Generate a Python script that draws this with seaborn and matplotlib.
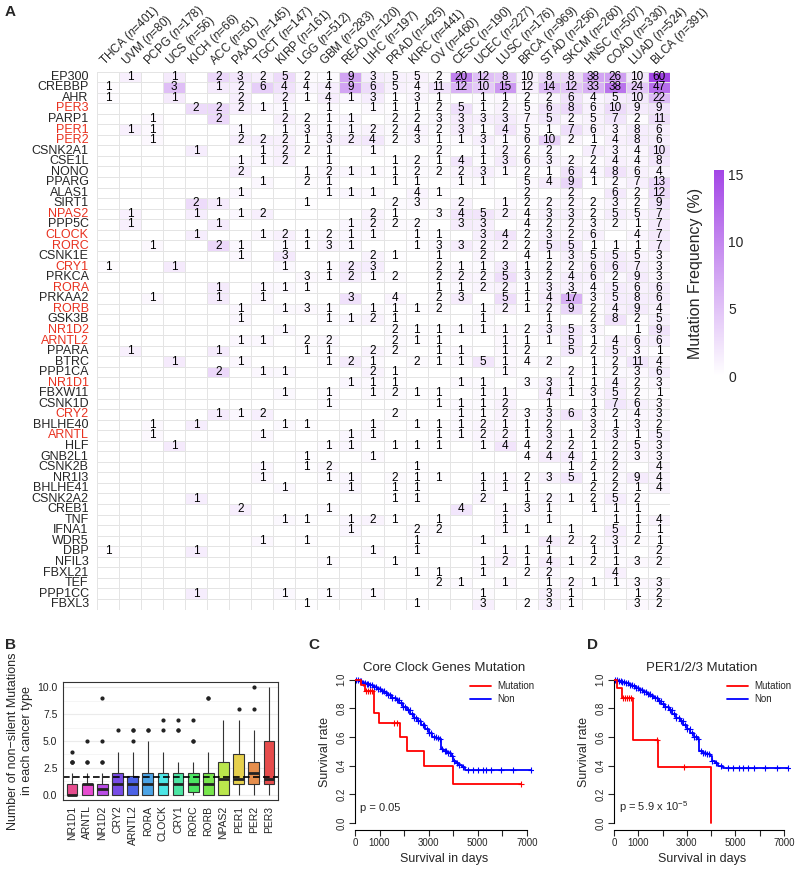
import numpy as np
import pandas as pd
import matplotlib
matplotlib.use("Agg")
import matplotlib.pyplot as plt
import seaborn as sns
from matplotlib.colors import LinearSegmentedColormap, hsv_to_rgb

# ---- panel A: mutation counts per gene and cancer type ----
cancers = ['THCA', 'UVM', 'PCPG', 'UCS', 'KICH', 'ACC', 'PAAD', 'TGCT', 'KIRP', 'LGG', 'GBM', 'READ', 'LIHC',
           'PRAD', 'KIRC', 'OV', 'CESC', 'UCEC', 'LUSC', 'BRCA', 'STAD', 'SKCM', 'HNSC', 'COAD', 'LUAD', 'BLCA']
n_samples = [401, 80, 178, 56, 66, 61, 145, 147, 161, 512, 283, 120, 197,
             425, 441, 460, 190, 227, 176, 969, 256, 260, 507, 330, 524, 391]

EP300   = [0,1,0,1,0,2,3,2,5,2,1,9,3,5,5,2,20,12,8,10,8,8,38,26,10,60]
CREBBP  = [1,0,0,3,0,1,2,6,4,4,4,9,6,5,4,11,12,10,15,12,14,12,33,38,24,47]
AHR     = [1,0,0,1,0,0,2,0,2,1,4,1,3,1,3,1,0,1,1,2,2,6,4,5,10,22]
PER3    = [0,0,0,0,2,2,2,1,1,0,1,0,1,1,1,2,5,1,2,5,6,8,6,10,9,9]
PARP1   = [0,0,1,0,0,2,0,0,2,2,1,1,0,2,2,3,3,3,3,7,5,2,5,7,2,11]
PER1    = [0,1,1,0,0,0,1,0,1,3,1,1,2,2,4,2,3,1,4,5,1,7,6,3,8,6]
PER2    = [0,0,1,0,0,0,2,2,2,1,3,2,4,2,3,1,1,3,1,6,10,2,1,4,8,6]
CSNK2A1 = [0,0,0,0,1,0,0,1,2,2,1,0,1,0,0,2,0,1,2,2,2,0,7,3,4,10]
CSE1L   = [0,0,0,0,0,0,1,1,2,0,1,0,0,1,2,1,4,1,3,6,3,2,2,4,4,8]
NONO    = [0,0,0,0,0,0,2,0,0,1,2,1,1,1,2,2,2,3,1,2,1,6,4,8,6,4]
PPARG   = [0,0,0,0,0,0,0,1,0,2,1,0,0,1,1,0,1,1,0,5,4,9,1,2,7,13]
ALAS1   = [0,0,0,0,0,0,1,0,0,0,1,1,1,0,4,1,0,0,0,2,0,2,0,6,2,12]
SIRT1   = [0,0,0,0,2,1,0,0,0,1,0,0,0,2,3,0,2,0,1,2,2,2,2,3,2,9]
NPAS2   = [0,1,0,0,1,0,1,2,0,0,0,0,2,1,0,3,4,5,2,4,3,3,2,5,5,7]
PPP5C   = [0,1,0,0,0,1,0,0,0,0,0,1,2,2,2,0,3,3,0,4,2,2,3,2,1,7]
CLOCK   = [0,0,0,0,1,0,0,1,2,1,2,1,1,0,1,1,0,3,4,2,3,2,6,0,4,7]
RORC    = [0,0,1,0,0,2,1,0,1,1,3,1,0,0,1,3,3,2,2,2,5,5,1,1,1,7]
CSNK1E  = [0,0,0,0,0,0,1,0,3,0,0,0,2,1,0,1,0,2,0,4,1,3,5,5,5,3]
CRY1    = [1,0,0,1,0,0,0,0,1,0,1,2,3,0,0,2,1,1,3,1,2,2,6,6,7,3]
PRKCA   = [0,0,0,0,0,0,0,0,0,3,1,2,1,2,0,2,2,2,5,3,2,4,6,2,9,3]
RORA    = [0,0,0,0,0,1,0,1,1,1,0,0,0,0,0,1,1,2,2,1,3,3,4,5,6,6]
PRKAA2  = [0,0,1,0,0,1,0,1,0,0,0,3,0,4,0,2,3,0,5,1,4,17,3,5,8,6]
RORB    = [0,0,0,0,0,0,1,0,1,3,1,0,1,1,1,2,0,1,2,1,2,9,2,4,9,4]
GSK3B   = [0,0,0,0,0,0,1,0,0,0,1,1,2,1,0,0,0,1,0,0,1,0,2,8,2,5]
NR1D2   = [0,0,0,0,0,0,0,0,1,0,0,0,0,2,1,1,1,1,1,2,3,5,3,0,1,9]
ARNTL2  = [0,0,0,0,0,0,1,1,0,2,2,0,0,2,1,1,0,0,1,1,1,5,1,4,6,6]
PPARA   = [0,1,0,0,0,1,0,0,0,1,1,0,2,2,0,1,1,0,1,2,0,5,2,5,3,1]
BTRC    = [0,0,0,1,0,0,1,0,0,0,1,2,1,0,2,1,1,5,1,4,2,0,1,2,11,4]
PPP1CA  = [0,0,0,0,0,2,0,1,1,0,0,0,2,1,0,0,0,0,1,0,0,2,1,2,3,6]
NR1D1   = [0,0,0,0,0,0,0,0,0,0,0,1,1,1,0,0,1,1,0,3,3,1,1,4,2,3]
FBXW11  = [0,0,0,0,0,0,0,0,1,0,1,0,1,2,1,1,0,1,1,0,4,1,3,5,2,1]
CSNK1D  = [0,0,0,0,0,0,0,0,0,0,1,0,0,0,0,1,1,1,2,0,1,0,1,7,6,3]
CRY2    = [0,0,0,0,0,1,1,2,0,0,0,0,0,2,0,0,1,1,2,3,3,6,3,2,4,3]
BHLHE40 = [0,0,1,0,1,0,0,0,1,1,0,0,1,0,1,1,1,2,1,1,2,0,3,1,3,2]
ARNTL   = [0,0,1,0,0,0,0,1,0,0,0,1,1,0,0,1,1,2,2,1,3,1,2,3,1,5]
HLF     = [0,0,0,1,0,0,0,0,0,0,1,1,0,1,1,1,0,1,4,4,2,2,1,2,5,3]
GNB2L1  = [0,0,0,0,0,0,0,0,0,1,0,0,1,0,0,0,0,0,0,4,4,4,1,2,3,3]
CSNK2B  = [0,0,0,0,0,0,0,1,0,1,2,0,0,0,1,0,0,0,0,0,0,1,2,2,0,4]
NR1I3   = [0,0,0,0,0,0,0,1,0,0,1,1,0,2,1,1,0,1,1,2,3,5,1,2,9,4]
BHLHE41 = [0,0,0,0,0,0,0,0,1,0,0,1,0,1,1,0,0,1,1,1,0,0,2,2,1,4]
CSNK2A2 = [0,0,0,0,1,0,0,0,0,0,0,0,0,1,1,0,0,2,0,1,2,1,2,5,2,0]
CREB1   = [0,0,0,0,0,0,2,0,0,0,1,0,0,0,0,0,4,0,1,3,1,0,1,1,1,0]
TNF     = [0,0,0,0,0,0,0,0,1,1,0,1,2,1,0,1,0,0,1,0,1,0,0,1,1,4]
IFNA1   = [0,0,0,0,0,0,0,0,0,0,0,1,0,0,2,2,0,0,1,1,0,1,0,5,1,1]
WDR5    = [0,0,0,0,0,0,0,1,0,1,0,0,0,0,1,0,0,1,0,0,4,2,2,3,2,1]
DBP     = [1,0,0,0,1,0,0,0,0,0,0,0,1,0,1,0,0,0,1,1,1,0,1,1,0,2]
NFIL3   = [0,0,0,0,0,0,0,0,0,0,1,0,0,1,0,0,0,1,2,1,4,1,2,1,3,2]
FBXL21  = [0,0,0,0,0,0,0,0,0,0,0,0,0,0,1,1,0,1,0,2,2,0,0,4,0,0]
TEF     = [0,0,0,0,0,0,0,0,0,0,0,0,0,0,0,2,1,0,1,0,1,2,1,1,3,3]
PPP1CC  = [0,0,0,0,1,0,0,0,1,0,1,0,1,0,0,0,0,1,0,0,3,1,0,0,1,2]
FBXL3   = [0,0,0,0,0,0,0,0,0,1,0,0,0,0,1,0,0,3,0,2,3,1,0,0,3,2]

genes = ['EP300', 'CREBBP', 'AHR', 'PER3', 'PARP1', 'PER1', 'PER2', 'CSNK2A1', 'CSE1L', 'NONO', 'PPARG',
         'ALAS1', 'SIRT1', 'NPAS2', 'PPP5C', 'CLOCK', 'RORC', 'CSNK1E', 'CRY1', 'PRKCA', 'RORA', 'PRKAA2',
         'RORB', 'GSK3B', 'NR1D2', 'ARNTL2', 'PPARA', 'BTRC', 'PPP1CA', 'NR1D1', 'FBXW11', 'CSNK1D', 'CRY2',
         'BHLHE40', 'ARNTL', 'HLF', 'GNB2L1', 'CSNK2B', 'NR1I3', 'BHLHE41', 'CSNK2A2', 'CREB1', 'TNF',
         'IFNA1', 'WDR5', 'DBP', 'NFIL3', 'FBXL21', 'TEF', 'PPP1CC', 'FBXL3']
rows = [EP300, CREBBP, AHR, PER3, PARP1, PER1, PER2, CSNK2A1, CSE1L, NONO, PPARG, ALAS1, SIRT1, NPAS2,
        PPP5C, CLOCK, RORC, CSNK1E, CRY1, PRKCA, RORA, PRKAA2, RORB, GSK3B, NR1D2, ARNTL2, PPARA, BTRC,
        PPP1CA, NR1D1, FBXW11, CSNK1D, CRY2, BHLHE40, ARNTL, HLF, GNB2L1, CSNK2B, NR1I3, BHLHE41, CSNK2A2,
        CREB1, TNF, IFNA1, WDR5, DBP, NFIL3, FBXL21, TEF, PPP1CC, FBXL3]

# ---- panel B: core clock genes, boxplot order ----
core_order = ['NR1D1', 'ARNTL', 'NR1D2', 'CRY2', 'ARNTL2', 'RORA', 'CLOCK', 'CRY1', 'RORC', 'RORB',
              'NPAS2', 'PER1', 'PER2', 'PER3']

# ---- panels C/D: Kaplan-Meier curves (days, survival) ----
c_mut_t = [0, 240, 400, 790, 980, 1820, 2100, 2830, 3980]
c_mut_s = [1.0, 0.96, 0.92, 0.77, 0.70, 0.60, 0.50, 0.40, 0.27]
c_mut_end = 6750
c_mut_censor = [430, 520, 600, 700, 1580, 1720, 6750]

c_non_t = [0, 150, 300, 450, 600, 750, 900, 1050, 1200, 1350, 1500, 1650, 1800, 1950, 2100, 2250, 2400,
           2550, 2700, 2850, 3000, 3150, 3300, 3420, 3500, 3600, 3750, 3900, 4000, 4100, 4250, 4350, 4480]
c_non_s = [1.0, 0.99, 0.98, 0.97, 0.96, 0.95, 0.935, 0.92, 0.905, 0.89, 0.875, 0.86, 0.835, 0.81, 0.785,
           0.76, 0.735, 0.71, 0.685, 0.655, 0.625, 0.60, 0.595, 0.585, 0.515, 0.50, 0.485, 0.47, 0.43,
           0.42, 0.405, 0.39, 0.37]
c_non_end = 7150
c_non_censor = [60, 120, 200, 260, 330, 400, 470, 540, 600, 680, 760, 850, 930, 1010, 1100, 1180, 1270,
                1350, 1440, 1520, 1610, 1700, 1790, 1880, 1960, 2050, 2140, 2230, 2320, 2410, 2500, 2580,
                2660, 2750, 2830, 2920, 3010, 3100, 3200, 3290, 3380, 3460, 3560, 3650, 3720, 3800, 3880,
                3960, 4050, 4150, 4250, 4380, 4600, 4800, 5000, 5200, 5350, 5550, 5950, 6450, 7150]

d_mut_t = [0, 110, 340, 800, 1820, 3980]
d_mut_s = [1.0, 0.94, 0.875, 0.58, 0.39, 0.0]
d_mut_end = 3980
d_mut_censor = [380, 460, 540, 620, 700, 1780, 2900]

d_non_t = [0, 150, 300, 450, 600, 750, 900, 1050, 1200, 1350, 1500, 1650, 1800, 1950, 2100, 2250, 2400,
           2550, 2700, 2850, 3000, 3150, 3300, 3450, 3520, 3650, 3800, 3950, 4030, 4150, 4300, 4500]
d_non_s = [1.0, 0.99, 0.985, 0.975, 0.965, 0.955, 0.945, 0.93, 0.915, 0.90, 0.885, 0.87, 0.85, 0.83,
           0.81, 0.785, 0.76, 0.735, 0.71, 0.685, 0.655, 0.63, 0.60, 0.585, 0.50, 0.49, 0.48, 0.47, 0.43,
           0.42, 0.40, 0.38]
d_non_end = 7150
d_non_censor = [60, 130, 210, 280, 350, 420, 500, 570, 650, 730, 810, 900, 980, 1070, 1150, 1240, 1320,
                1410, 1490, 1580, 1670, 1760, 1850, 1940, 2030, 2120, 2210, 2300, 2390, 2480, 2570, 2660,
                2750, 2840, 2930, 3020, 3120, 3210, 3300, 3390, 3480, 3580, 3680, 3760, 3850, 3930, 4050,
                4200, 4400, 4700, 4900, 5150, 5300, 5500, 5750, 6200, 6700, 7150]

sns.set_style("white")
plt.rcParams['font.family'] = ['Liberation Sans', 'DejaVu Sans']
plt.rcParams['mathtext.fontset'] = 'custom'
plt.rcParams['mathtext.rm'] = 'Liberation Sans'
plt.rcParams['mathtext.it'] = 'Liberation Sans:italic'

fig = plt.figure(figsize=(8, 8.71), dpi=100)
W, H = 800.0, 871.0

def box(x0, y0, x1, y1):
    # pixel box (top-left origin) -> figure fraction rect
    return [x0 / W, 1 - y1 / H, (x1 - x0) / W, (y1 - y0) / H]

#Heatmap of mutation frequency with counts as labels
counts = pd.DataFrame(rows, index=genes, columns=cancers)
freq = counts / np.array(n_samples) * 100
annot = np.where(counts.values > 0, counts.values.astype(str), '')
col_labels = [c + ' ($n$=' + str(n) + ')' for c, n in zip(cancers, n_samples)]

cmap = LinearSegmentedColormap.from_list('wp', ['#FFFFFF', '#A346E6'])
ax_a = fig.add_axes(box(97, 71.5, 670, 609.5))
cax = fig.add_axes(box(714, 170, 724, 376))
sns.heatmap(freq, ax=ax_a, cmap=cmap, vmin=0, vmax=freq.values.max(), annot=annot, fmt='',
            annot_kws={'fontsize': 8.5, 'color': 'black'}, linewidths=0.5, linecolor='#E4E4E4',
            cbar_ax=cax, cbar_kws={'ticks': [0, 5, 10, 15]},
            xticklabels=col_labels, yticklabels=genes)
ax_a.xaxis.tick_top()
ax_a.set_xticklabels(col_labels, rotation=45, ha='left', va='bottom', rotation_mode='anchor', fontsize=8.5)
ax_a.tick_params(axis='x', length=0, pad=2)
ax_a.tick_params(axis='y', length=0, pad=6, labelsize=9)
for lab in ax_a.get_yticklabels():
    lab.set_rotation(0)
    if lab.get_text() in core_order:
        lab.set_color('#E8311F')
ax_a.set_xlabel('')
ax_a.set_ylabel('')
cbar = ax_a.collections[0].colorbar
cbar.outline.set_visible(False)
cax.tick_params(length=0, labelsize=10, pad=3)
cax.yaxis.set_label_position('left')
cax.set_ylabel('Mutation Frequency (%)', fontsize=11.5, labelpad=8)

#Boxplot of counts per cancer type for core clock genes
long_df = pd.DataFrame({'gene': np.repeat(core_order, len(cancers)),
                        'count': np.concatenate([counts.loc[g].values for g in core_order])})
hues = np.arange(len(core_order))[::-1] / len(core_order)
pal = [tuple(0.8 * hsv_to_rgb((h, 1, 1)) + 0.2) for h in hues]

ax_b = fig.add_axes(box(63, 682, 278, 800))
ax_b.set_axisbelow(True)
ax_b.set_yticks([1.25, 3.75, 6.25, 8.75], minor=True)
ax_b.grid(True, which='major', color='#EBEBEB', lw=0.8)
ax_b.grid(True, which='minor', axis='y', color='#F2F2F2', lw=0.5)
sns.boxplot(data=long_df, x='gene', y='count', hue='gene', order=core_order, hue_order=core_order,
            palette=pal, legend=False, width=0.7, linewidth=0.8, linecolor='#333333', fliersize=2,
            flierprops={'marker': 'o', 'markerfacecolor': '#222222', 'markeredgecolor': '#222222'},
            medianprops={'color': '#222222', 'linewidth': 2}, capprops={'linewidth': 0}, ax=ax_b)
ax_b.axhline(long_df['count'].mean(), color='black', ls=(0, (4, 2)), lw=1.2)
ax_b.set_ylim(-0.5, 10.5)
ax_b.set_xlim(-0.6, len(core_order) - 0.4)
ax_b.set_yticks([0, 2.5, 5, 7.5, 10])
ax_b.set_yticklabels(['0.0', '2.5', '5.0', '7.5', '10.0'])
ax_b.tick_params(axis='both', which='major', length=2.5, width=0.6, color='#333333', labelsize=7.5,
                 pad=1.5, labelcolor='#222222')
ax_b.tick_params(axis='both', which='minor', length=0)
ax_b.tick_params(axis='x', labelrotation=90)
for s in ax_b.spines.values():
    s.set_color('#333333')
    s.set_linewidth(0.8)
ax_b.set_xlabel('')
ax_b.set_ylabel('Number of non\u2212silent Mutations\nin each cancer type', fontsize=9, labelpad=3)

#Kaplan-Meier panels
def step_at(t, s, x):
    idx = np.searchsorted(t, x, side='right') - 1
    return np.array(s)[idx]

def km_panel(rect, mut_t, mut_s, mut_end, mut_c, non_t, non_s, non_end, non_c, title, ptext):
    ax = fig.add_axes(rect)
    ln, = ax.step(np.r_[non_t, non_end], np.r_[non_s, non_s[-1]], where='post', color='blue', lw=1.3)
    ax.plot(non_c, step_at(non_t, non_s, non_c), ls='none', marker='+', ms=5, mew=0.8, color='blue')
    lm, = ax.step(np.r_[mut_t, mut_end], np.r_[mut_s, mut_s[-1]], where='post', color='red', lw=1.3,
                  zorder=4)
    ax.plot(mut_c, step_at(mut_t, mut_s, mut_c), ls='none', marker='+', ms=5, mew=0.8, color='red',
            zorder=4)
    ax.set_xlim(0, 7250)
    ax.set_ylim(-0.05, 1.04)
    ax.set_xticks(range(0, 7001, 1000))
    ax.set_xticklabels(['0', '1000', '', '3000', '', '5000', '', '7000'])
    ax.set_yticks([0, 0.2, 0.4, 0.6, 0.8, 1.0])
    ax.set_yticklabels(['0.0', '0.2', '0.4', '0.6', '0.8', '1.0'])
    for lab in ax.get_yticklabels():
        lab.set_rotation(90)
        lab.set_va('center')
    ax.tick_params(direction='out', length=4, width=0.8, labelsize=7, pad=2, left=True, bottom=True)
    ax.spines['top'].set_visible(False)
    ax.spines['right'].set_visible(False)
    ax.spines['left'].set_bounds(0, 1)
    ax.spines['bottom'].set_bounds(0, 7000)
    for s in ['left', 'bottom']:
        ax.spines[s].set_color('black')
        ax.spines[s].set_linewidth(0.8)
    ax.set_title(title, fontsize=9.5, pad=2)
    ax.set_xlabel('Survival in days', fontsize=9, labelpad=3)
    ax.set_ylabel('Survival rate', fontsize=9, labelpad=4)
    ax.legend([lm, ln], ['Mutation', 'Non'], loc='upper right', bbox_to_anchor=(1.03, 0.98),
              frameon=False, fontsize=7, handlelength=2.2, handletextpad=0.6, labelspacing=0.3,
              borderaxespad=0)
    ax.text(0.03, 0.12, ptext, transform=ax.transAxes, fontsize=8)
    return ax

km_panel(box(355, 674, 533, 830), c_mut_t, c_mut_s, c_mut_end, c_mut_censor,
         c_non_t, c_non_s, c_non_end, c_non_censor, 'Core Clock Genes Mutation', 'p = 0.05')
km_panel(box(614, 674, 790, 830), d_mut_t, d_mut_s, d_mut_end, d_mut_censor,
         d_non_t, d_non_s, d_non_end, d_non_censor, 'PER1/2/3 Mutation', 'p = 5.9 x 10$^{-5}$')

for letter, x, y in [('A', 5, 12), ('B', 5, 645), ('C', 308, 645), ('D', 587, 645)]:
    fig.text(x / W, 1 - y / H, letter, fontsize=11, fontweight='bold', va='center', ha='left')

fig.savefig('out.png', dpi=100)
